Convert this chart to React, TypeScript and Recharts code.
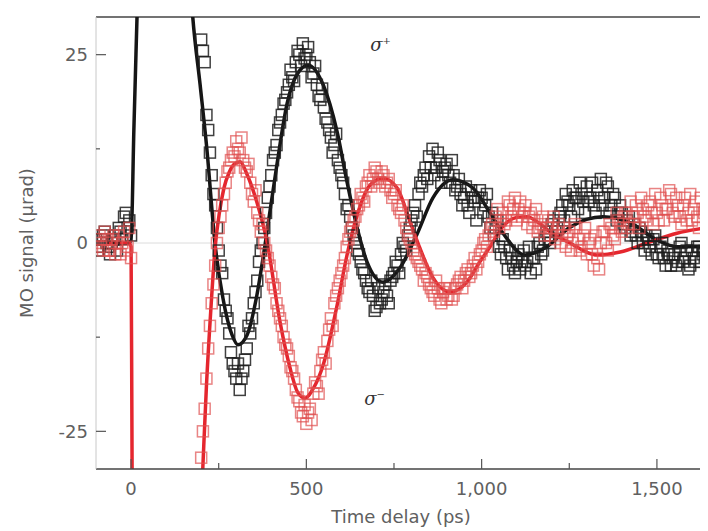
import React from 'react';
import { ComposedChart, Line, Scatter, XAxis, YAxis, ReferenceLine, ReferenceDot, Label } from 'recharts';

// ---- Fit curves ----
const blackFitTimes = [-100, -50, -10, 0, 8, 17, 35, 70, 110, 150, 176, 197, 216, 240, 262, 288, 305, 331, 359, 382, 416, 445, 475, 505, 548, 588, 616, 645, 673, 719, 767, 815, 861, 918, 975, 1024, 1061, 1124, 1186, 1252, 1346, 1423, 1500, 1557, 1640];
const blackFitValues = [0, 0, 0, 0.3, 15, 30, 60, 85, 80, 50, 30, 21, 12.6, -0.3, -7.3, -12.2, -13.5, -12.2, -6.9, -0.3, 10.4, 18.5, 22.5, 23.6, 21, 14.7, 8.1, 2, -2.5, -5.2, -3.3, 1.1, 6, 8.4, 7.3, 4, 1.3, -1.6, -0.5, 2.1, 3.5, 2.7, 0.4, -0.5, -0.5];

const redFitTimes = [-100, -50, -5, 0, 3, 20, 100, 170, 205, 215, 228, 240, 252, 265, 280, 295, 311, 330, 359, 388, 425, 453, 475, 496, 520, 548, 588, 616, 645, 682, 719, 759, 796, 824, 861, 910, 958, 995, 1024, 1061, 1100, 1129, 1165, 1195, 1252, 1329, 1395, 1472, 1557, 1640];
const redFitValues = [0, 0, 0, -0.5, -30, -80, -110, -70, -29.5, -19, -8.5, -0.5, 4, 7.3, 9.4, 10.5, 10.8, 9.2, 5.4, 0.1, -10.5, -16.5, -19.8, -20.6, -19.3, -16.2, -8.2, -1.6, 3.7, 7.7, 8.6, 7.3, 2.8, -0.7, -4.6, -6.5, -5.2, -2.5, -0.5, 2.2, 3.4, 3.5, 2.6, 1.5, 0, -1.6, -1.2, 0, 1.3, 2];

// ---- Measured data (squares), first set ----
const dataTimes = [
  -100, -90, -80, -70, -60, -50, -40, -30, -20, -10, 0,
  200, 210, 220, 230, 240, 250, 260, 270, 280, 290,
  300, 310, 320, 330, 340, 350, 360, 370, 380, 390,
  400, 410, 420, 430, 440, 450, 460, 470, 480, 490,
  500, 510, 520, 530, 540, 550, 560, 570, 580, 590,
  600, 610, 620, 630, 640, 650, 660, 670, 680, 690,
  700, 710, 720, 730, 740, 750, 760, 770, 780, 790,
  800, 810, 820, 830, 840, 850, 860, 870, 880, 890,
  900, 910, 920, 930, 940, 950, 960, 970, 980, 990,
  1000, 1010, 1020, 1030, 1040, 1050, 1060, 1070, 1080, 1090,
  1100, 1110, 1120, 1130, 1140, 1150, 1160, 1170, 1180, 1190,
  1200, 1210, 1220, 1230, 1240, 1250, 1260, 1270, 1280, 1290,
  1300, 1310, 1320, 1330, 1340, 1350, 1360, 1370, 1380, 1390,
  1400, 1410, 1420, 1430, 1440, 1450, 1460, 1470, 1480, 1490,
  1500, 1510, 1520, 1530, 1540, 1550, 1560, 1570, 1580, 1590,
  1600, 1610, 1620, 1630, 1640,
];

const blackData = [
  0.5, -0.5, 1, 0, -1.5, 0.5, -1, 1.5, 3.5, 2, 1,
  27, 24, 15, 9, 5, -1, -4, -9, -12, -16,
  -18, -19.5, -17, -14, -12, -8, -5, -1, 2, 6,
  9, 12, 15, 17, 19, 21, 22, 24, 25, 26.5,
  25, 24, 22.5, 21, 19, 18, 16, 14, 13, 11,
  9, 6.5, 5, 2, 0, -1.5, -3.5, -5, -6.5, -7,
  -8.5, -8, -6.5, -7, -5, -4, -3, -1.5, -0.5, 1,
  3, 5, 6.5, 7.5, 10, 11.5, 12.5, 10, 11, 9.5,
  10.5, 8, 9, 7.5, 6.5, 6, 5, 7, 5.5, 6,
  6, 5, 3.5, 4, 2, -0.5, 0.5, -2, -1, -3,
  -2.5, -3.5, -1, -2.5, -4, -2, -0.5, -1.5, 0.5, 1,
  2.5, 1.5, 3.5, 5, 6.5, 5, 7, 6, 8, 5.5,
  7.5, 6, 5, 7, 8.5, 6, 7.5, 5, 6, 4,
  4, 2, 3.5, 1.5, 1, 2, 0, 1, -0.5, 0.5,
  -1.5, -0.5, -2, -1, -3, -1.5, -2.5, 0, -2, -3.5,
  -1, -2.5, -0.5, -1.5, -1,
];

const redData = [
  0, 1, -1, 0.5, -1, 1, 0, -1.5, 1.5, -0.5, -2,
  -28.5, -22, -14, -8, -3, 2, 5, 8, 10, 12,
  13.5, 12, 11, 9.5, 8, 5.5, 4, 1.5, 0, -2,
  -4.5, -6, -9, -11, -13.5, -15, -17, -19.5, -21, -23,
  -24, -22, -20, -19, -17, -14.5, -13, -10, -8, -6,
  -4, -2, 0.5, 2, 3.5, 5, 6, 7.5, 9, 8.5,
  9.5, 8, 9, 8, 7, 6.5, 5, 4, 3, 1,
  0, -1.5, -2.5, -3.5, -4, -5.5, -6.5, -5, -7.5, -6.5,
  -7.5, -6, -7, -5.5, -4.5, -5, -3.5, -4, -2, -2.5,
  -1, 0.5, 1, 2.5, 3.5, 2, 4, 3, 5, 4.5,
  3, 5.5, 4, 2.5, 4, 3, 1.5, 2.5, 1, 3,
  2, 0.5, 2.5, 1, -0.5, 1.5, 0, 2, -1, 1,
  -1.5, 0.5, -3, -2, 0, 1.5, -1, 2, 0.5, 3,
  1.5, 4, 2.5, 3.5, 5, 2, 4.5, 3, 5.5, 2.5,
  4, 6, 3, 4.5, 6.5, 3.5, 5, 2.5, 6, 4,
  3, 5.5, 2, 4.5, 3,
];

// ---- Measured data (squares), interleaved second set ----
const midTimes = [
  -95, -85, -75, -65, -55, -45, -35, -25, -15, -5,
  205, 215, 225, 235, 245, 255, 265, 275, 285, 295,
  305, 315, 325, 335, 345, 355, 365, 375, 385, 395,
  405, 415, 425, 435, 445, 455, 465, 475, 485, 495,
  505, 515, 525, 535, 545, 555, 565, 575, 585, 595,
  605, 615, 625, 635, 645, 655, 665, 675, 685, 695,
  705, 715, 725, 735, 745, 755, 765, 775, 785, 795,
  805, 815, 825, 835, 845, 855, 865, 875, 885, 895,
  905, 915, 925, 935, 945, 955, 965, 975, 985, 995,
  1005, 1015, 1025, 1035, 1045, 1055, 1065, 1075, 1085, 1095,
  1105, 1115, 1125, 1135, 1145, 1155, 1165, 1175, 1185, 1195,
  1205, 1215, 1225, 1235, 1245, 1255, 1265, 1275, 1285, 1295,
  1305, 1315, 1325, 1335, 1345, 1355, 1365, 1375, 1385, 1395,
  1405, 1415, 1425, 1435, 1445, 1455, 1465, 1475, 1485, 1495,
  1505, 1515, 1525, 1535, 1545, 1555, 1565, 1575, 1585, 1595,
  1605, 1615, 1625, 1635,
];

const blackMid = [
  -1, 0.5, 1.5, -0.5, 0, 1, 2, 0.5, 4, 3,
  25.5, 17, 12, 6.5, 2, -3, -7.5, -10, -14.5, -17,
  -16, -18, -15.5, -11, -10, -6.5, -2.5, 0, 4, 7.5,
  11, 13, 16, 18.5, 20, 23, 21.5, 25.5, 23.5, 24.5,
  26, 22, 23.5, 19.5, 20.5, 16.5, 15, 12, 14.5, 10,
  8, 4.5, 3.5, 1, -1, -2.5, -4, -6, -5, -9,
  -6, -7.5, -5.5, -8, -4.5, -2.5, -4, 0, -1, 2,
  4, 3.5, 8, 9, 8.5, 10, 9, 12, 8, 10,
  9, 11, 7, 8.5, 5, 7.5, 4, 6, 3, 7,
  4, 6.5, 2, 1, 3, -1.5, -0.5, -3.5, -2, -4,
  -1.5, -2.5, -3, -0.5, -2, -3.5, 0, -1, 1.5, 0,
  3, 2, 4, 3, 5.5, 3.5, 6, 4.5, 6.5, 4,
  5.5, 8, 4, 6, 5, 8, 4, 6.5, 3, 5,
  2.5, 3, 1, 2.5, 0, 1.5, -1, 0.5, -1.5, 1,
  -2, 0, -3, -1.5, -2, -3, -0.5, -2.5, -1, -3,
  -2, -0.5, -2.5, -1,
];

const redMid = [
  0.5, -0.5, 1.5, -1, 0.5, -1.5, 1, 0, -1, 2,
  -25, -18, -11, -5.5, 0, 3.5, 6.5, 9.5, 11, 11.5,
  12.5, 14, 10, 10.5, 6.5, 7, 3, 2.5, -1, -3,
  -5.5, -8, -10, -12.5, -14, -16.5, -18, -20.5, -22.5, -21.5,
  -22.5, -23.5, -18.5, -20, -15.5, -16, -11.5, -11, -7, -5,
  -3, -0.5, 1.5, 3, 4.5, 6.5, 5.5, 8, 7.5, 10,
  8.5, 9.5, 7.5, 8.5, 6, 7, 4.5, 5, 2, 0.5,
  -1, -2, -3, -5, -4.5, -6, -7, -6, -8, -6,
  -7, -7.5, -6, -5, -6, -4, -4.5, -3, -3.5, -1.5,
  0, -0.5, 2, 1.5, 4.5, 3, 2.5, 5.5, 3.5, 6,
  4.5, 3.5, 5, 3.5, 2, 4.5, 2, 3.5, 2, 1,
  3.5, 1.5, 0, 2, 1, -1, 2.5, 0.5, -0.5, 2,
  0, -1.5, 1, -3.5, 1.5, 0, 2.5, 1, 4, 2,
  3.5, 2, 5.5, 2.5, 4, 6, 3.5, 5, 4, 6.5,
  3, 5, 4.5, 7, 4, 6, 3.5, 5, 3, 6.5,
  4.5, 3.5, 6, 4,
];

const xTicks = [0, 250, 500, 750, 1000, 1250, 1500];
const xMajorLabels: Record<number, string> = { 0: '0', 500: '500', 1000: '1,000', 1500: '1,500' };
const yTicks = [-25, -12.5, 0, 12.5, 25];
const yMajorLabels: Record<number, string> = { [-25]: '-25', 0: '0', 25: '25' };

const zip = (ts: number[], vs: number[]) => ts.map((t, i) => ({ t, v: vs[i] }));
const blackFit = zip(blackFitTimes, blackFitValues);
const redFit = zip(redFitTimes, redFitValues);
const blackPts = zip(dataTimes, blackData).concat(zip(midTimes, blackMid));
const redPts = zip(dataTimes, redData).concat(zip(midTimes, redMid));

const FONT = 'DejaVu Sans';
const TXT = '#606060';

const XTick = (props: any) => {
  const { x, y, payload } = props;
  const lab = xMajorLabels[payload.value];
  const major = lab !== undefined;
  return (
    <g>
      <line x1={x} x2={x} y1={y} y2={y - (major ? 10 : 6)} stroke="#555" strokeWidth={1.2} />
      {major && (
        <text x={x} y={y + 26} textAnchor="middle" fontSize={18} fill={TXT} fontFamily={FONT}>
          {lab}
        </text>
      )}
    </g>
  );
};

const YTick = (props: any) => {
  const { x, y, payload } = props;
  const lab = yMajorLabels[payload.value];
  const major = lab !== undefined;
  return (
    <g>
      <line x1={x} x2={x + (major ? 10 : 4)} y1={y} y2={y} stroke="#555" strokeWidth={1.2} />
      {major && (
        <text x={x - 8} y={y} dy="0.35em" textAnchor="end" fontSize={18} fill={TXT} fontFamily={FONT}>
          {lab}
        </text>
      )}
    </g>
  );
};

const renderXLabel = (props: any) => {
  const vb = props.viewBox;
  return (
    <text x={vb.x + vb.width / 2} y={vb.y + 54} textAnchor="middle" fontSize={18} fill={TXT} fontFamily={FONT}>
      Time delay (ps)
    </text>
  );
};

const renderYLabel = (props: any) => {
  const vb = props.viewBox;
  const cx = vb.x + 19;
  const cy = vb.y + vb.height / 2;
  return (
    <text x={cx} y={cy} dy="0.35em" textAnchor="middle" fontSize={18} fill={TXT} fontFamily={FONT} transform={`rotate(-90 ${cx} ${cy})`}>
      MO signal (µrad)
    </text>
  );
};

const sigmaLabel = (sign: string) => (props: any) => {
  const vb = props.viewBox;
  return (
    <text x={vb.x} y={vb.y} fontSize={18} fill="#333" fontFamily="DejaVu Serif">
      <tspan fontStyle="italic">σ</tspan>
      <tspan dy={-7} fontSize={10}>{sign}</tspan>
    </text>
  );
};

const square = (color: string, op: number) => (props: any) => {
  const { cx, cy } = props;
  if (cx == null || cy == null) return <g />;
  return <rect x={cx - 5.5} y={cy - 5.5} width={11} height={11} fill="none" stroke={color} strokeOpacity={op} strokeWidth={1.5} />;
};

export default function App() {
  return (
    <div style={{ width: 700, height: 523 }}>
      <ComposedChart width={700} height={523} margin={{ top: 9, right: 2, bottom: 0, left: 0 }}>
        <XAxis
          type="number"
          dataKey="t"
          domain={[-100, 1640]}
          ticks={xTicks}
          allowDataOverflow
          height={62}
          tickSize={0}
          tickMargin={0}
          tickLine={false}
          tick={<XTick />}
          axisLine={{ stroke: '#444', strokeWidth: 1.5 }}
        >
          <Label content={renderXLabel} />
        </XAxis>
        <YAxis
          type="number"
          domain={[-30, 30]}
          ticks={yTicks}
          allowDataOverflow
          width={88}
          tickSize={0}
          tickMargin={0}
          tickLine={false}
          tick={<YTick />}
          axisLine={{ stroke: '#c8c8c8', strokeWidth: 1 }}
        >
          <Label content={renderYLabel} />
        </YAxis>
        <ReferenceLine y={0} stroke="#dcdcdc" strokeWidth={1} />
        <ReferenceLine y={30} stroke="#444" strokeWidth={1.5} />
        <ReferenceLine x={1640} stroke="#d0d0d0" strokeWidth={1} />
        <Scatter data={blackPts} dataKey="v" shape={square('#1e1e1e', 0.85)} isAnimationActive={false} />
        <Scatter data={redPts} dataKey="v" shape={square('#e05050', 0.7)} isAnimationActive={false} />
        <Line data={blackFit} dataKey="v" type="monotone" stroke="#151515" strokeWidth={3.5} dot={false} isAnimationActive={false} />
        <Line data={redFit} dataKey="v" type="monotone" stroke="#e5262e" strokeWidth={3.5} dot={false} isAnimationActive={false} />
        <ReferenceDot x={682} y={25.5} r={0} label={sigmaLabel('+')} />
        <ReferenceDot x={665} y={-21.5} r={0} label={sigmaLabel('−')} />
      </ComposedChart>
    </div>
  );
}
